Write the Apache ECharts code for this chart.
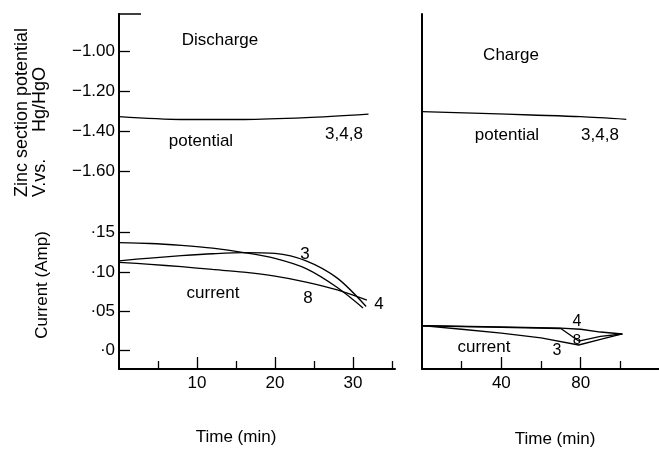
<!DOCTYPE html>
<html>
<head>
<meta charset="utf-8">
<script src="https://cdn.jsdelivr.net/npm/echarts@6/dist/echarts.min.js"></script>
<style>html,body{margin:0;padding:0;background:#fff;}#c{width:659px;height:450px;}</style>
</head>
<body>
<div id="c"></div>
<script>
// ---- Data ----
// Discharge panel
const disPotT = [0, 8, 16, 24, 32];
const disPotV = [-1.325, -1.339, -1.339, -1.330, -1.3125];
const disCur3T = [0, 4, 8, 12, 16, 20, 24, 28, 31.7];
const disCur3V = [0.114, 0.1175, 0.1205, 0.123, 0.1245, 0.1235, 0.114, 0.092, 0.056];
const disCur4T = [0, 4, 8, 12, 16, 20, 24, 28, 31.3];
const disCur4V = [0.137, 0.136, 0.1335, 0.130, 0.1245, 0.117, 0.104, 0.080, 0.054];
const disCur8T = [0, 4, 8, 12, 16, 20, 24, 28, 31.8];
const disCur8V = [0.112, 0.1095, 0.1065, 0.103, 0.0995, 0.0945, 0.087, 0.077, 0.064];
// Charge panel
const chgPotT = [0, 30, 55, 80, 103];
const chgPotV = [-1.30, -1.308, -1.3165, -1.325, -1.338];
const chgCur3T = [0, 20, 40, 60, 79, 90, 101];
const chgCur3V = [0.0315, 0.027, 0.022, 0.016, 0.007, 0.014, 0.021];
const chgCur4T = [0, 40, 70, 80, 90, 101];
const chgCur4V = [0.0315, 0.030, 0.0285, 0.027, 0.0235, 0.021];
const chgCur8T = [0, 40, 70, 79, 90, 101];
const chgCur8V = [0.0315, 0.0295, 0.028, 0.012, 0.018, 0.021];
// Ticks
const potTicks = [-1.0, -1.2, -1.4, -1.6];
const curTicks = [0, 0.05, 0.10, 0.15];
const disMajor = [10, 20, 30];
const disMinor = [5, 15, 25, 35];
const chgMajor = [40, 80];
const chgMinor = [20, 60, 100];

const FONT = 'Liberation Sans';
const pairs = (t, v) => t.map((x, i) => [x, v[i]]);
const potMin = -1.6915, potMax = -0.8115;
const curMin = -0.0235, curMax = 0.204;

const axisLineStyle = { show: true, onZero: false, lineStyle: { color: '#000', width: 2 } };

function hiddenX(grid, max) {
  return { type: 'value', gridIndex: grid, min: 0, max: max, show: false };
}
function majorX(grid, max, ticks) {
  return {
    type: 'value', gridIndex: grid, min: 0, max: max, position: 'bottom',
    axisLine: axisLineStyle,
    axisTick: { show: true, inside: true, length: 12, customValues: ticks, lineStyle: { color: '#000', width: 1.3 } },
    axisLabel: { show: true, customValues: ticks, color: '#000', fontFamily: FONT, fontSize: 17, margin: 6 },
    splitLine: { show: false }
  };
}
function minorX(grid, max, ticks) {
  return {
    type: 'value', gridIndex: grid, min: 0, max: max, position: 'bottom', offset: 0,
    axisLine: { show: false, onZero: false },
    axisTick: { show: true, inside: true, length: 8, customValues: ticks, lineStyle: { color: '#000', width: 1.3 } },
    axisLabel: { show: false },
    splitLine: { show: false }
  };
}
function plainY(grid, min, max) {
  return { type: 'value', gridIndex: grid, min: min, max: max, axisLine: axisLineStyle,
    axisTick: { show: false }, axisLabel: { show: false }, splitLine: { show: false } };
}

function line(xIdx, yIdx, data) {
  return {
    type: 'line', xAxisIndex: xIdx, yAxisIndex: yIdx, data: data,
    showSymbol: false, smooth: 0.3, silent: true,
    lineStyle: { color: '#000', width: 1.3 }
  };
}
function lineSharp(xIdx, yIdx, data) {
  const s = line(xIdx, yIdx, data); s.smooth = false; return s;
}

function txt(x, y, s, size) {
  return {
    type: 'text', x: x, y: y, silent: true,
    style: { text: s, fill: '#000', font: (size || 17) + 'px "' + FONT + '"', textAlign: 'center', textVerticalAlign: 'middle' }
  };
}
function rtxt(x, y, s, size, align) {
  return {
    type: 'text', x: x, y: y, rotation: Math.PI / 2, silent: true,
    style: { text: s, fill: '#000', font: (size || 17) + 'px "' + FONT + '"', textAlign: align || 'center', textVerticalAlign: 'middle' }
  };
}

const chart = echarts.init(document.getElementById('c'), null, { renderer: 'canvas' });
chart.setOption({
  backgroundColor: '#fff',
  animation: false,
  grid: [
    { left: 119, top: 14, width: 276, height: 176 },
    { left: 119, top: 190, width: 276, height: 179 },
    { left: 422, top: 14, width: 237, height: 176 },
    { left: 422, top: 190, width: 237, height: 179 }
  ],
  xAxis: [
    hiddenX(0, 35.4),
    majorX(1, 35.4, disMajor),
    minorX(1, 35.4, disMinor),
    hiddenX(2, 119.5),
    majorX(3, 119.5, chgMajor),
    minorX(3, 119.5, chgMinor)
  ],
  yAxis: [
    {
      type: 'value', gridIndex: 0, min: potMin, max: potMax,
      axisLine: axisLineStyle,
      axisTick: { show: true, inside: true, length: 11, customValues: potTicks, lineStyle: { color: '#000', width: 1.3 } },
      axisLabel: { show: true, customValues: potTicks, color: '#000', fontFamily: FONT, fontSize: 17, margin: 4,
        formatter: v => '\u2212' + Math.abs(v).toFixed(2) },
      splitLine: { show: false }
    },
    {
      type: 'value', gridIndex: 1, min: curMin, max: curMax,
      axisLine: axisLineStyle,
      axisTick: { show: true, inside: true, length: 11, customValues: curTicks, lineStyle: { color: '#000', width: 1.3 } },
      axisLabel: { show: true, customValues: curTicks, color: '#000', fontFamily: FONT, fontSize: 17, margin: 4,
        formatter: v => '\u00B7' + (Math.abs(v) < 1e-9 ? '0' : String(Math.round(v * 100)).padStart(2, '0')) },
      splitLine: { show: false }
    },
    plainY(2, potMin, potMax),
    plainY(3, curMin, curMax)
  ],
  series: [
    line(0, 0, pairs(disPotT, disPotV)),
    line(1, 1, pairs(disCur3T, disCur3V)),
    line(1, 1, pairs(disCur4T, disCur4V)),
    line(1, 1, pairs(disCur8T, disCur8V)),
    line(3, 2, pairs(chgPotT, chgPotV)),
    lineSharp(4, 3, pairs(chgCur3T, chgCur3V)),
    lineSharp(4, 3, pairs(chgCur4T, chgCur4V)),
    lineSharp(4, 3, pairs(chgCur8T, chgCur8V))
  ],
  graphic: [
    { type: 'line', silent: true, shape: { x1: 118, y1: 14, x2: 141, y2: 14 }, style: { stroke: '#000', lineWidth: 1.5 } },
    txt(220, 40, 'Discharge'),
    txt(511, 55, 'Charge'),
    txt(201, 141, 'potential'),
    txt(344, 134, '3,4,8'),
    txt(507, 135, 'potential'),
    txt(600, 135, '3,4,8'),
    txt(213, 293, 'current'),
    txt(484, 347, 'current'),
    txt(305, 254, '3'),
    txt(308, 298, '8'),
    txt(379, 304, '4'),
    txt(577, 322, '4', 16),
    txt(577, 340, '8', 15),
    txt(557, 351, '3', 16),
    txt(236, 437, 'Time (min)'),
    txt(555, 439, 'Time (min)'),
    rtxt(22, 197, 'Zinc section potential', 18, 'left'),
    rtxt(40, 197, 'V.vs.', 18, 'left'),
    rtxt(40, 132, 'Hg/HgO', 18, 'left'),
    rtxt(42, 285, 'Current (Amp)', 17, 'center')
  ]
});
</script>
</body>
</html>
